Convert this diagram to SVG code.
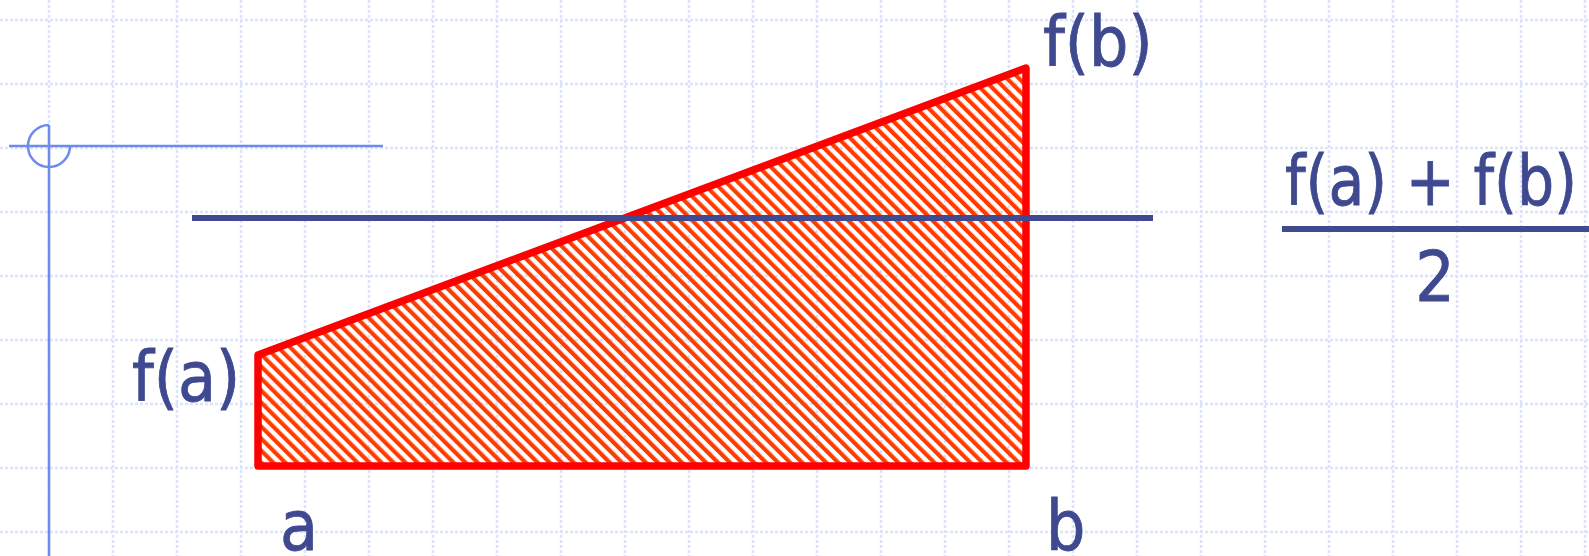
<svg xmlns="http://www.w3.org/2000/svg" width="1589" height="556" viewBox="0 0 1589 556">
  <style>
    .grid { stroke: #dce4fb; stroke-width: 2.5; stroke-dasharray: 3 2; fill: none; }
    .axis { stroke: #6d8af0; stroke-width: 2.5; fill: none; }
    .lbl { font-family: "DejaVu Sans Condensed", "DejaVu Sans", sans-serif; font-size: 69px; fill: #3f4990; stroke: #3f4990; stroke-width: 0.8; }
    .navy { stroke: #414a8e; stroke-width: 6; fill: none; }
  </style>
  <defs>
    <pattern id="hatch" width="8.5" height="8.5" patternUnits="userSpaceOnUse" patternTransform="rotate(-45)">
      <rect x="0" y="0" width="4.2" height="8.5" fill="#ff3b00"/>
    </pattern>
  </defs>
  <rect width="1589" height="556" fill="#ffffff"/>
  <g id="grid">
    <path class="grid" d="M49 0V556M113 0V556M177 0V556M241 0V556M305 0V556M369 0V556M433 0V556M497 0V556M561 0V556M625 0V556M689 0V556M753 0V556M817 0V556M881 0V556M945 0V556M1009 0V556M1073 0V556M1137 0V556M1201 0V556M1265 0V556M1329 0V556M1393 0V556M1457 0V556M1521 0V556M1585 0V556"/>
    <path class="grid" d="M0 20H1589M0 84H1589M0 148H1589M0 212H1589M0 276H1589M0 340H1589M0 404H1589M0 468H1589M0 532H1589"/>
  </g>
  <g id="axes">
    <path class="axis" d="M49 125V556M9 146H383"/>
    <path class="axis" d="M49 125A21 21 0 1 0 70 146"/>
  </g>
  <g id="trapezoid">
    <polygon points="258,355 1026,68 1026,466 258,466" fill="url(#hatch)" stroke="#ff0000" stroke-width="7.5" stroke-linejoin="round"/>
  </g>
  <g id="connectors">
    <line class="navy" x1="192" y1="218" x2="1153" y2="218"/>
    <line class="navy" x1="1282" y1="229" x2="1589" y2="229"/>
  </g>
  <g id="labels">
    <text class="lbl" x="132" y="401">f(a)</text>
    <text class="lbl" x="1043" y="66">f(b)</text>
    <text class="lbl" x="280" y="550">a</text>
    <text class="lbl" x="1046" y="550">b</text>
    <text class="lbl" x="1285" y="205" textLength="292" lengthAdjust="spacingAndGlyphs">f(a) + f(b)</text>
    <text class="lbl" x="1435" y="301" text-anchor="middle">2</text>
  </g>
</svg>
